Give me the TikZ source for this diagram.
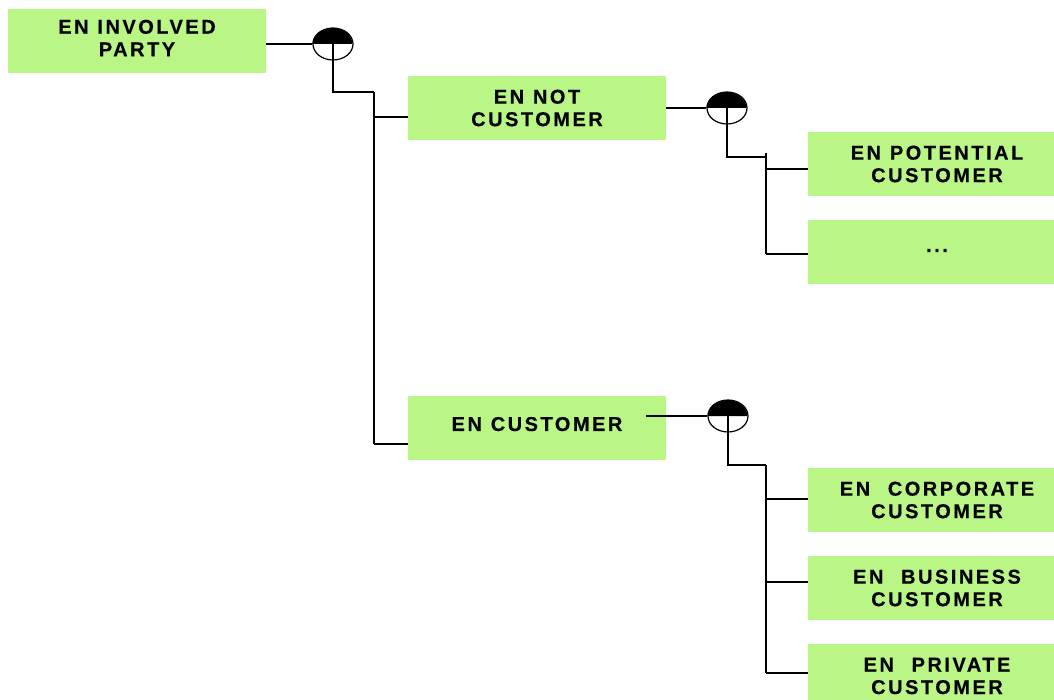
\documentclass[tikz,border=0pt]{standalone}
\usepackage{fontspec}
\usetikzlibrary{shapes.geometric}
\setmainfont{Liberation Sans}
\newfontfamily\boxfont{Liberation Sans Bold}[LetterSpace=12.5, WordSpace=1.1, FakeBold=0.4]
\definecolor{boxgreen}{RGB}{185,246,134}
\tikzset{
  entity/.style={fill=boxgreen, draw=none, minimum width=258pt, minimum height=64pt,
    inner sep=0pt, align=center, font=\boxfont\fontsize{20}{22.5}\selectfont},
  rel/.style={ellipse, draw=black, line width=1.2pt, minimum width=40pt, minimum height=32pt, inner sep=0pt},
  conn/.style={draw=black, line width=1.4pt}
}
\begin{document}
\begin{tikzpicture}[x=1pt,y=1pt]
\useasboundingbox (0,0) rectangle (1054,-700);
\clip (0,0) rectangle (1054,-700);
% boxes
\node[entity, text depth=6pt] (ip) at (137,-41) {EN INVOLVED\\PARTY};
\node[entity] (nc) at (537,-108) {EN NOT\\CUSTOMER};
\node[entity] (pc) at (937,-164) {EN POTENTIAL\\CUSTOMER};
\node[entity, text depth=3pt] (dt) at (937,-252) {...};
\node[entity, text depth=8pt] (cu) at (537,-428) {EN CUSTOMER};
\node[entity] (cc) at (937,-500) {EN\ \ CORPORATE\\CUSTOMER};
\node[entity] (bc) at (937,-588) {EN\ \ BUSINESS\\CUSTOMER};
\node[entity] (pv) at (937,-676) {EN\ \ PRIVATE\\CUSTOMER};
% relationship symbols
\node[rel] (e1) at (333,-44) {};
\node[rel] (e2) at (727,-108) {};
\node[rel] (e3) at (728,-416) {};
\foreach \e in {e1,e2,e3}{
  \fill[black] (\e.west) arc[start angle=180, end angle=0, x radius=20pt, y radius=16pt] -- cycle;
}
% junction coordinates
\coordinate (j1) at (374,-92);
\coordinate (j1b) at (374,-444);
\coordinate (b11) at (408,-117);
\coordinate (b12) at (408,-444);
\coordinate (j2t) at (766,-153);
\coordinate (j2) at (766,-157);
\coordinate (j2b) at (766,-254);
\coordinate (b21) at (808,-169);
\coordinate (b22) at (808,-254);
\coordinate (j3) at (766,-465);
\coordinate (j3b) at (766,-673);
\coordinate (b31) at (808,-499);
\coordinate (b32) at (808,-582);
\coordinate (b33) at (808,-673);
\coordinate (s3) at (646,-416);
% connectors
\draw[conn] (ip.east |- e1.west) -- (e1.west);
\draw[conn] (e1.center) |- (j1);
\draw[conn] (j1) -- (j1b);
\draw[conn] (j1 |- b11) -- (b11);
\draw[conn] (j1b) -- (b12);
\draw[conn] (nc.east |- e2.west) -- (e2.west);
\draw[conn] (e2.center) |- (j2);
\draw[conn] (j2t) -- (j2b);
\draw[conn] (j2 |- b21) -- (b21);
\draw[conn] (j2b) -- (b22);
\draw[conn] (s3) -- (e3.west);
\draw[conn] (e3.center) |- (j3);
\draw[conn] (j3) -- (j3b);
\draw[conn] (j3 |- b31) -- (b31);
\draw[conn] (j3 |- b32) -- (b32);
\draw[conn] (j3b) -- (b33);
\end{tikzpicture}
\end{document}
